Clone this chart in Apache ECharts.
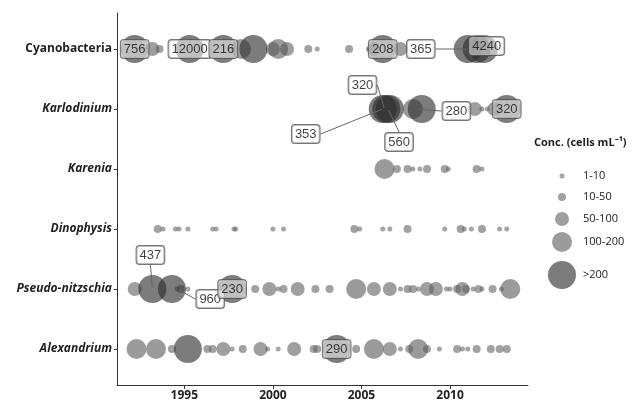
<!DOCTYPE html>
<html>
<head>
<meta charset="utf-8">
<script src="https://cdn.jsdelivr.net/npm/echarts@6/dist/echarts.min.js"></script>
<style>
  html, body { margin: 0; padding: 0; background: #fff; }
  #chart { width: 638px; height: 402px; }
</style>
</head>
<body>
<div id="chart"></div>
<script>
const taxa = ['Cyanobacteria', 'Karlodinium', 'Karenia', 'Dinophysis', 'Pseudo-nitzschia', 'Alexandrium'];
const sizeClasses = ['1-10', '10-50', '50-100', '100-200', '>200'];
const yearTicks = [1995, 2000, 2005, 2010];

// [year, concentration class 1..5]
const cyanobacteria = [[1992.2,5],[1993.2,3],[1993.6,2],[1995.3,5],[1997.2,5],[1998.2,4],[1998.9,5],[2000.0,3],[2000.3,4],[2000.8,3],[2002.0,2],[2002.5,1],[2004.3,2],[2005.4,1],[2005.7,3],[2006.2,5],[2007.2,3],[2011.0,5],[2011.5,5],[2011.9,5]];
const karlodinium = [[2006.2,5],[2006.4,5],[2006.6,5],[2007.9,4],[2008.4,5],[2011.4,3],[2011.8,1],[2012.1,1],[2012.5,3],[2013.2,5]];
const karenia = [[2006.3,4],[2007.0,2],[2007.6,2],[2007.9,1],[2008.3,1],[2008.7,2],[2009.7,2],[2009.9,1],[2011.5,2],[2011.8,1]];
const dinophysis = [[1993.5,2],[1993.8,1],[1994.5,1],[1994.7,1],[1995.2,1],[1996.6,1],[1996.8,1],[1997.8,1],[1997.9,1],[2000.0,1],[2000.6,1],[2004.6,2],[2004.9,1],[2006.2,1],[2006.6,1],[2007.6,2],[2009.7,1],[2010.6,2],[2010.8,1],[2011.2,1],[2011.8,2],[2012.8,1],[2013.2,1]];
const pseudoNitzschia = [[1992.2,3],[1993.2,5],[1994.3,5],[1994.6,1],[1994.8,2],[1995.2,1],[1997.7,5],[1999.0,2],[1999.8,3],[2000.3,1],[2000.6,2],[2001.4,3],[2002.4,2],[2003.2,2],[2004.7,4],[2005.7,3],[2006.6,3],[2007.2,1],[2007.6,2],[2007.9,2],[2008.2,1],[2008.7,3],[2009.2,3],[2009.8,1],[2010.0,1],[2010.4,2],[2010.7,3],[2010.9,2],[2011.3,1],[2011.6,2],[2011.8,1],[2012.4,2],[2012.9,1],[2013.4,4]];
const alexandrium = [[1992.3,4],[1993.4,4],[1994.3,2],[1995.2,5],[1996.3,2],[1996.6,2],[1997.2,3],[1997.7,1],[1998.3,2],[1999.3,3],[1999.7,1],[2000.3,1],[2001.2,3],[2002.3,2],[2002.5,2],[2003.6,5],[2004.7,2],[2005.7,4],[2006.6,3],[2007.2,1],[2007.7,2],[2008.2,4],[2008.7,2],[2009.4,1],[2010.4,2],[2010.7,1],[2011.0,1],[2011.5,2],[2012.3,2],[2012.8,2],[2013.2,2]];

// labelled maxima: [year, taxon index, cells mL-1]
const peakValues = [[1992.2,0,756],[1995.3,0,12000],[1997.2,0,216],[2006.2,0,208],[2011.0,0,365],[2011.9,0,4240],
  [2006.3,1,320],[2006.2,1,353],[2006.5,1,560],[2008.1,1,280],[2013.2,1,320],
  [1993.2,4,437],[1994.6,4,960],[1997.7,4,230],[2003.6,5,290]];

// label nudges (px), same order as peakValues
const labelNudge = [[0,0],[0,0],[0,0],[0,0],[-47,0],[3,-3],
  [-22,-24],[-77,25],[11,33],[40,2],[0,0],
  [-2,-34],[33,10],[0,0],[0,0]];

const rows = [cyanobacteria, karlodinium, karenia, dinophysis, pseudoNitzschia, alexandrium];
const symbolSizes = [5, 8, 14, 20, 28];
const colors = ['rgba(105,105,105,0.75)', 'rgba(100,100,100,0.75)', 'rgba(95,95,95,0.75)', 'rgba(88,88,88,0.75)', 'rgba(45,45,45,0.78)'];
const legendY = [176, 197, 219, 242, 275];

const font = '"Open Sans", "Liberation Sans", sans-serif';

const bubbleSeries = sizeClasses.map((name, k) => {
  const data = [];
  rows.forEach((row, r) => {
    row.forEach(p => { if (p[1] === k + 1) data.push([p[0], r]); });
  });
  return {
    name: name,
    type: 'scatter',
    data: data,
    symbolSize: symbolSizes[k],
    itemStyle: { color: colors[k] },
    emphasis: { disabled: true },
    z: 2
  };
});

const labelSeries = {
  name: 'peaks',
  type: 'scatter',
  data: peakValues.map(p => [p[0], p[1], p[2]]),
  symbolSize: 2,
  itemStyle: { color: 'rgba(0,0,0,0)' },
  z: 5,
  label: {
    show: true,
    position: 'inside',
    formatter: p => String(p.value[2]),
    fontFamily: '"Liberation Sans", Arial, sans-serif',
    fontSize: 13,
    color: '#111',
    backgroundColor: 'rgba(255,255,255,0.65)',
    borderColor: '#555',
    borderWidth: 1,
    borderRadius: 3,
    padding: [3, 3, 2, 3]
  },
  labelLine: { show: true, lineStyle: { color: '#666', width: 1 } },
  labelLayout: params => ({ dx: labelNudge[params.dataIndex][0], dy: labelNudge[params.dataIndex][1] }),
  emphasis: { disabled: true }
};

const legends = sizeClasses.map((name, k) => {
  const sz = symbolSizes[k];
  const h = Math.max(sz, 14);
  return {
    data: [name],
    left: 562 - sz / 2,
    top: legendY[k] - h / 2,
    padding: 0,
    itemWidth: sz,
    itemHeight: sz,
    itemGap: 0,
    icon: 'circle',
    selectedMode: false,
    textStyle: { fontFamily: font, fontSize: 11, color: '#222', lineHeight: 14, padding: [0, 0, 0, 16 - sz / 2] }
  };
});

const chart = echarts.init(document.getElementById('chart'));
chart.setOption({
  animation: false,
  title: {
    text: 'Conc. (cells mL\u207B\u00B9)',
    left: 534,
    top: 137,
    padding: 0,
    textStyle: { fontFamily: font, fontSize: 11, fontWeight: 'bold', color: '#222' }
  },
  legend: legends,
  grid: { left: 117, right: 110, top: 13, bottom: 17, outerBoundsMode: 'none' },
  xAxis: {
    type: 'value',
    min: 1991.2,
    max: 2014.4,
    splitLine: { show: false },
    axisLine: { onZero: false, lineStyle: { color: '#333', width: 1 } },
    axisTick: { length: 4, customValues: yearTicks, lineStyle: { color: '#333' } },
    axisLabel: {
      customValues: yearTicks,
      formatter: v => String(v),
      margin: 5,
      fontFamily: font,
      fontSize: 12,
      fontWeight: 'bold',
      color: '#222'
    }
  },
  yAxis: {
    type: 'value',
    inverse: true,
    min: -0.6,
    max: 5.6,
    splitLine: { show: false },
    axisLine: { show: true, onZero: false, lineStyle: { color: '#333', width: 1 } },
    axisTick: { show: true, length: 3, customValues: [0, 1, 2, 3, 4, 5], lineStyle: { color: '#333' } },
    axisLabel: {
      customValues: [0, 1, 2, 3, 4, 5],
      margin: 5,
      formatter: v => (v === 0 ? '{n|' : '{i|') + taxa[v] + '}',
      rich: {
        n: { fontFamily: font, fontSize: 12, fontWeight: 'bold', color: '#222' },
        i: { fontFamily: font, fontSize: 12, fontWeight: 'bold', fontStyle: 'italic', color: '#222' }
      }
    }
  },
  series: [...bubbleSeries, labelSeries]
});
</script>
</body>
</html>
